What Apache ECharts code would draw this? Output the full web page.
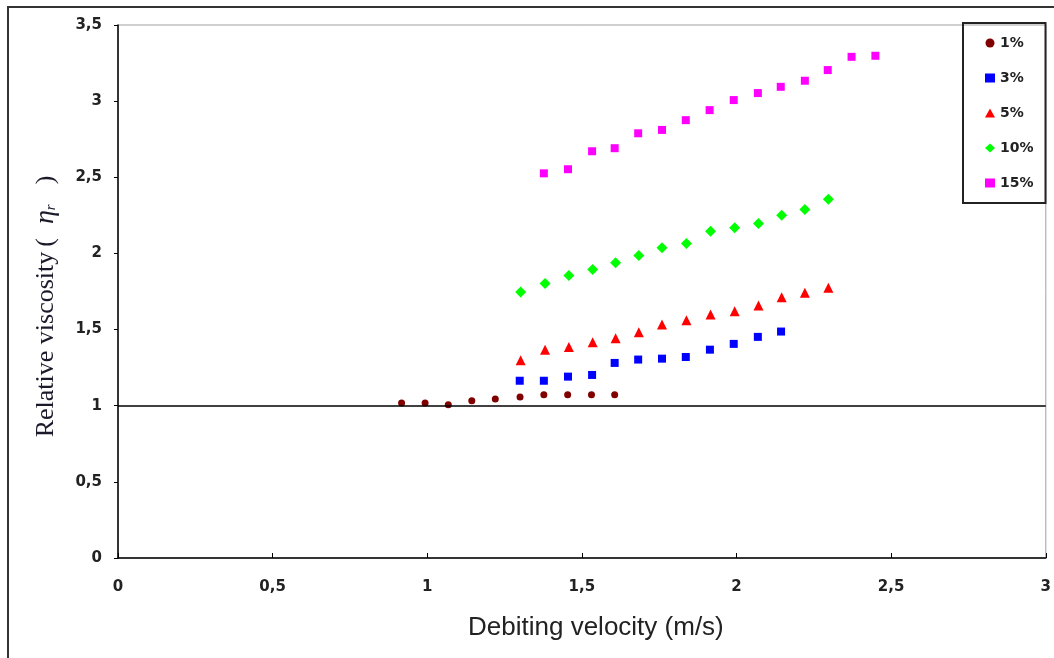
<!DOCTYPE html>
<html>
<head>
<meta charset="utf-8">
<script src="https://cdn.jsdelivr.net/npm/echarts@6/dist/echarts.min.js"></script>
<style>
html,body{margin:0;padding:0;background:#fff;}
#chart{width:1054px;height:658px;}
</style>
</head>
<body>
<div id="chart"></div>
<script>
// ---- data ----
const seriesNames = ['1%', '3%', '5%', '10%', '15%'];

const x1 = [0.917, 0.993, 1.068, 1.144, 1.220, 1.300, 1.377, 1.454, 1.531, 1.606];
const y1 = [1.018, 1.018, 1.007, 1.033, 1.044, 1.057, 1.072, 1.072, 1.072, 1.072];

const x3 = [1.299, 1.377, 1.455, 1.533, 1.606, 1.682, 1.759, 1.836, 1.914, 1.991, 2.069, 2.144];
const y3 = [1.164, 1.164, 1.191, 1.202, 1.281, 1.303, 1.309, 1.320, 1.368, 1.406, 1.452, 1.487];

const x5 = [1.302, 1.381, 1.458, 1.535, 1.609, 1.684, 1.759, 1.838, 1.916, 1.994, 2.071, 2.146, 2.221, 2.297];
const y5 = [1.298, 1.368, 1.386, 1.417, 1.443, 1.482, 1.533, 1.561, 1.599, 1.621, 1.658, 1.713, 1.741, 1.774];

const x10 = [1.302, 1.381, 1.458, 1.535, 1.609, 1.684, 1.759, 1.838, 1.916, 1.994, 2.071, 2.146, 2.221, 2.297];
const y10 = [1.746, 1.803, 1.855, 1.895, 1.939, 1.987, 2.037, 2.066, 2.145, 2.169, 2.197, 2.250, 2.289, 2.355];

const x15 = [1.377, 1.455, 1.533, 1.606, 1.682, 1.759, 1.836, 1.913, 1.991, 2.069, 2.143, 2.221, 2.295, 2.372, 2.449];
const y15 = [2.526, 2.553, 2.671, 2.691, 2.789, 2.811, 2.875, 2.941, 3.007, 3.053, 3.094, 3.134, 3.204, 3.291, 3.298];

const refLineValue = 1;
const xTicks = [0, 0.5, 1, 1.5, 2, 2.5, 3];
const yTicks = [0, 0.5, 1, 1.5, 2, 2.5, 3, 3.5];

// ---- chart ----
const zip = (xs, ys) => xs.map((x, i) => [x, ys[i]]);
const fmt = v => String(v).replace('.', ',');

const styles = [
  { symbol: 'circle', size: 7, color: '#800000' },
  { symbol: 'rect', size: 8, color: '#0000ff' },
  { symbol: 'triangle', size: 10, color: '#ff0000' },
  { symbol: 'diamond', size: 11, color: '#00ff00' },
  { symbol: 'rect', size: 8, color: '#ff00ff' }
];
const datasets = [zip(x1, y1), zip(x3, y3), zip(x5, y5), zip(x10, y10), zip(x15, y15)];

const series = seriesNames.map((name, i) => ({
  name: name,
  type: 'scatter',
  symbol: styles[i].symbol,
  symbolSize: styles[i].size,
  itemStyle: { color: styles[i].color, opacity: 1 },
  data: datasets[i],
  z: 3
}));
series[0].markLine = {
  silent: true,
  symbol: 'none',
  label: { show: false },
  lineStyle: { color: '#000', width: 1.5, type: 'solid', opacity: 1 },
  data: [{ yAxis: refLineValue }]
};

const labelFont = 'DejaVu Sans, Liberation Sans, Arial, sans-serif';
const serif = 'Liberation Serif, Times New Roman, serif';
const titleColor = '#1a1a2a';

const chart = echarts.init(document.getElementById('chart'), null, { renderer: 'canvas' });
chart.setOption({
  animation: false,
  backgroundColor: '#fff',
  grid: {
    left: 118, right: 7, top: 25, bottom: 100,
    show: true, borderColor: '#a0a0a0', borderWidth: 1, backgroundColor: 'transparent'
  },
  graphic: [{
    type: 'rect',
    shape: { x: 8, y: 7, width: 1100, height: 700 },
    style: { fill: 'none', stroke: '#333', lineWidth: 2 },
    silent: true
  }],
  legend: {
    orient: 'vertical',
    left: 963, top: 23,
    padding: [12, 12, 12, 22],
    itemGap: 19,
    itemWidth: 10, itemHeight: 9,
    borderColor: '#222', borderWidth: 2,
    textStyle: { fontFamily: labelFont, fontWeight: 'bold', fontSize: 14, color: '#222', lineHeight: 16 },
    data: seriesNames
  },
  xAxis: {
    type: 'value',
    min: xTicks[0], max: xTicks[xTicks.length - 1], interval: 0.5,
    axisLine: { show: true, lineStyle: { color: '#000', width: 1.5 } },
    axisTick: { show: true, inside: true, length: 5, lineStyle: { color: '#000' } },
    splitLine: { show: false },
    axisLabel: { formatter: fmt, margin: 22, fontFamily: labelFont, fontWeight: 'bold', fontSize: 15, color: '#222' },
    name: 'Debiting velocity (m/s)',
    nameLocation: 'middle',
    nameGap: 57,
    nameTextStyle: { fontFamily: 'Liberation Sans Narrow, Liberation Sans, sans-serif', fontSize: 26, color: '#222', padding: [0, 0, 0, 28] }
  },
  yAxis: {
    type: 'value',
    min: yTicks[0], max: yTicks[yTicks.length - 1], interval: 0.5,
    axisLine: { show: true, lineStyle: { color: '#000', width: 1.5 } },
    axisTick: { show: true, inside: false, length: 4, lineStyle: { color: '#000' } },
    splitLine: { show: false },
    axisLabel: { formatter: fmt, margin: 16, fontFamily: labelFont, fontWeight: 'bold', fontSize: 15, color: '#222' },
    name: '{a|Relative viscosity}{p|(}{e|η}{s|r}{q|)}',
    nameLocation: 'middle',
    nameGap: 58,
    nameTextStyle: {
      fontFamily: serif, fontSize: 26, color: titleColor,
      padding: [0, 30, 0, 0],
      rich: {
        a: { fontFamily: serif, fontSize: 26, color: titleColor },
        p: { fontFamily: serif, fontSize: 26, color: titleColor, padding: [0, 14, 0, 5] },
        e: { fontFamily: serif, fontSize: 28, fontStyle: 'italic', color: titleColor },
        s: { fontFamily: serif, fontSize: 15, fontStyle: 'italic', color: titleColor, padding: [10, 0, 0, 0] },
        q: { fontFamily: serif, fontSize: 26, color: titleColor, padding: [0, 0, 0, 20] }
      }
    }
  },
  series: series
});
</script>
</body>
</html>
